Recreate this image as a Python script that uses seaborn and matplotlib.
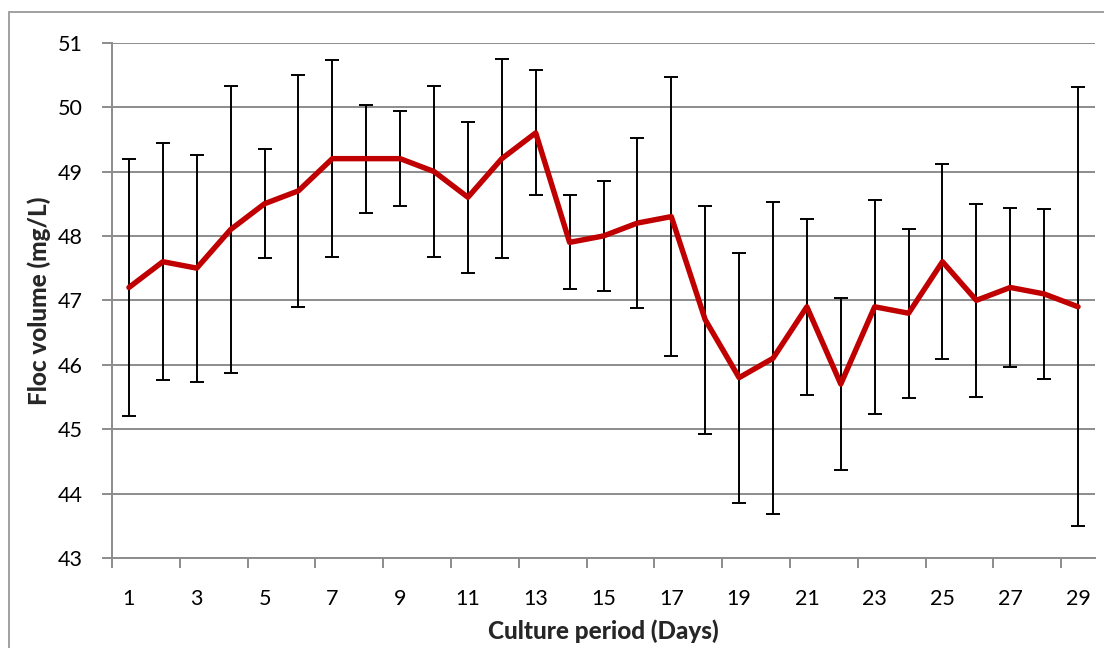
import numpy as np
import pandas as pd
import matplotlib
matplotlib.use("Agg")
import matplotlib.pyplot as plt
import seaborn as sns
from matplotlib.patches import Rectangle

# Daily floc volume (mean) and its standard deviation over the culture period
days = list(range(1, 30))
floc_mean = [47.2, 47.6, 47.5, 48.1, 48.5, 48.7, 49.2, 49.2, 49.2, 49.0,
             48.6, 49.2, 49.6, 47.9, 48.0, 48.2, 48.3, 46.7, 45.8, 46.1,
             46.9, 45.7, 46.9, 46.8, 47.6, 47.0, 47.2, 47.1, 46.9]
floc_sd = [2.00, 1.84, 1.76, 2.23, 0.85, 1.80, 1.53, 0.84, 0.74, 1.33,
           1.17, 1.55, 0.97, 0.73, 0.85, 1.32, 2.16, 1.77, 1.94, 2.42,
           1.37, 1.34, 1.66, 1.31, 1.51, 1.50, 1.24, 1.32, 3.41]
y_ticks = list(range(43, 52))
x_tick_labels = [str(d) for d in days[::2]]

df = pd.DataFrame({"day": days, "mean": floc_mean, "sd": floc_sd})

sns.set_theme(style="white")
plt.rcParams["font.family"] = ["Lato", "DejaVu Sans"]

fig = plt.figure(figsize=(11.04, 6.48), dpi=100)
ax = fig.add_axes([112 / 1104, 1 - 558 / 648, (1095 - 112) / 1104, (558 - 42.7) / 648])

grid_c = "#8c8c8c"

# chart-area frame
fig.patches.append(Rectangle((9 / 1104, -0.05), 1.2, 1 - 12 / 648 + 0.05,
                             transform=fig.transFigure, fill=False,
                             edgecolor="#9a9a9a", linewidth=1.3, zorder=0))

ax.errorbar(df["day"], df["mean"], yerr=df["sd"], fmt="none",
            ecolor="black", elinewidth=1.4, capsize=5, capthick=1.4, zorder=3)
sns.lineplot(data=df, x="day", y="mean", ax=ax, color="#C00000",
             linewidth=3.9, zorder=4)

ax.set_xlim(0.5, 29.5)
ax.set_ylim(43, 51)
ax.set_yticks(y_ticks)
ax.set_yticklabels([str(v) for v in y_ticks])
ax.set_xticks(days[::2])
ax.set_xticklabels(x_tick_labels)
ax.set_xticks(np.arange(0.5, 30, 2), minor=True)

ax.yaxis.grid(True, color=grid_c, linewidth=1.4)
ax.xaxis.grid(False)
for side in ["top", "right"]:
    ax.spines[side].set_visible(False)
for side in ["left", "bottom"]:
    ax.spines[side].set_color(grid_c)
    ax.spines[side].set_linewidth(1.4)

ax.tick_params(axis="y", which="major", left=True, length=7, width=1.4,
               color=grid_c, labelsize=15.5, pad=14, labelcolor="black")
ax.tick_params(axis="x", which="major", bottom=False, labelsize=15.5, pad=16,
               labelcolor="black")
ax.tick_params(axis="x", which="minor", bottom=True, length=7, width=1.4,
               color=grid_c)

ax.set_xlabel("Culture period (Days)", fontsize=17.5, fontweight="black", labelpad=8)
ax.set_ylabel("Floc volume (mg/L)", fontsize=17.5, fontweight="black", labelpad=5)

fig.savefig("out.png", dpi=100)
